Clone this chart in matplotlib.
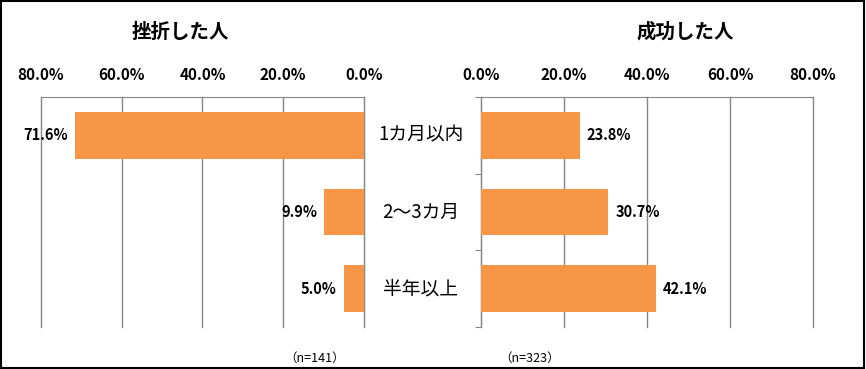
import matplotlib.pyplot as plt
from matplotlib.patches import Rectangle

plt.rcParams['font.family'] = ['Noto Sans CJK JP', 'DejaVu Sans']

categories = ['1カ月以内', '2～3カ月', '半年以上']
failed = [71.6, 9.9, 5.0]
success = [23.8, 30.7, 42.1]
tick_vals = [0, 20, 40, 60, 80]
tick_labels = ['0.0%', '20.0%', '40.0%', '60.0%', '80.0%']

bar_color = '#F79646'
grid_color = '#868686'

W, H = 866, 369
fig = plt.figure(figsize=(W / 100, H / 100), dpi=100)


def fx(px):
    return px / W


def fy(py):
    return 1 - py / H


top, bottom = 97, 327
axL = fig.add_axes([fx(41), fy(bottom), fx(364 - 41), (bottom - top) / H])
axR = fig.add_axes([fx(481), fy(bottom), fx(813 - 481), (bottom - top) / H])

for ax, vals in ((axL, failed), (axR, success)):
    ax.barh(range(len(vals)), vals, height=0.61, color=bar_color, zorder=3)
    ax.set_ylim(2.5, -0.5)
    ax.set_xticks(tick_vals)
    ax.set_xticklabels(tick_labels, fontsize=11, fontweight='bold')
    ax.xaxis.tick_top()
    ax.tick_params(axis='x', length=0, pad=10)
    ax.grid(axis='x', color=grid_color, lw=1, zorder=0)
    for gl in ax.get_xgridlines():
        gl.set_clip_on(False)
    ax.spines['bottom'].set_visible(False)
    ax.spines['top'].set_color(grid_color)

axL.set_xlim(80, 0)
axL.spines['left'].set_visible(False)
axL.spines['right'].set_color(grid_color)
axL.set_yticks([])

axR.set_xlim(0, 80)
axR.spines['right'].set_visible(False)
axR.spines['left'].set_color(grid_color)
axR.set_yticks([-0.5, 0.5, 1.5, 2.5])
axR.set_yticklabels([])
axR.tick_params(axis='y', length=4.5, color=grid_color, direction='out')

for i, v in enumerate(failed):
    axL.annotate(f'{v:.1f}%', (v, i), xytext=(-5, 0), textcoords='offset points',
                 ha='right', va='center', fontsize=10.5, fontweight='bold')
for i, v in enumerate(success):
    axR.annotate(f'{v:.1f}%', (v, i), xytext=(5, 0), textcoords='offset points',
                 ha='left', va='center', fontsize=10.5, fontweight='bold')

# category labels between the two panels
for i, c in enumerate(categories):
    yc = top + (bottom - top) * (i + 0.5) / 3
    fig.text(fx(421), fy(yc), c, ha='center', va='center', fontsize=13.5)

fig.text(fx(180), fy(32), '挫折した人', ha='center', va='center', fontsize=14, fontweight='bold')
fig.text(fx(685), fy(32), '成功した人', ha='center', va='center', fontsize=14, fontweight='bold')

fig.text(fx(315), fy(358), '（n=141）', ha='center', va='center', fontsize=9)
fig.text(fx(530), fy(358), '（n=323）', ha='center', va='center', fontsize=9)

fig.patches.append(Rectangle((0.001, 0.003), 0.997, 0.995, transform=fig.transFigure,
                             fill=False, edgecolor='black', lw=1.5))

fig.savefig('out.png', dpi=100)
